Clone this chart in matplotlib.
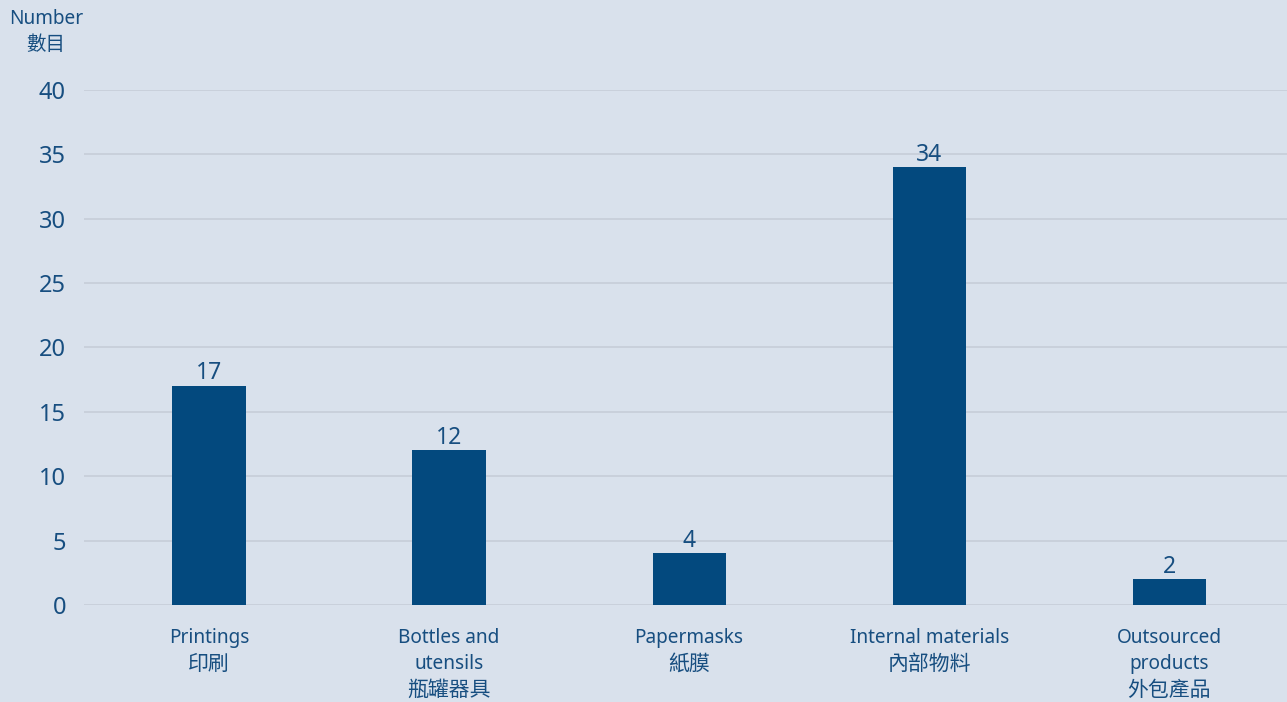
import matplotlib.pyplot as plt
import numpy as np

plt.rcParams['font.family'] = ['Noto Sans', 'Noto Sans CJK TC', 'DejaVu Sans']

categories_en = [['Printings'], ['Bottles and', 'utensils'], ['Papermasks'],
                 ['Internal materials'], ['Outsourced', 'products']]
categories_zh = ['印刷', '瓶罐器具', '紙膜', '內部物料', '外包產品']
values = [17, 12, 4, 34, 2]
yticks = [0, 5, 10, 15, 20, 25, 30, 35, 40]

bg = '#d9e1ec'
bar_col = '#03497e'
txt = '#174e80'
cjk = ['Noto Sans CJK TC', 'DejaVu Sans']

fig = plt.figure(figsize=(12.87, 7.02), dpi=100, facecolor=bg)
ax = fig.add_axes([0.0653, 0.1382, 0.9347, 0.7336], facecolor=bg)

x = np.arange(len(values))
ax.bar(x, values, width=0.305, color=bar_col, zorder=3)
for xi, v in zip(x, values):
    ax.text(xi, v + 0.05, str(v), ha='center', va='bottom', fontsize=16.5, color=txt, zorder=4)

ax.set_ylim(0, 40)
ax.set_xlim(-0.52, 4.49)
ax.set_yticks(yticks)
ax.set_yticklabels([str(t) for t in yticks], fontsize=17, color=txt)
ax.set_xticks(x)
ax.set_xticklabels([])
ax.tick_params(axis='both', length=0)
ax.tick_params(axis='y', pad=13)
ax.grid(axis='y', color='#c6cdd8', linewidth=1.2, zorder=0)
for s in ax.spines.values():
    s.set_visible(False)

# category labels, one text per line (English + Chinese)
line_y = [-0.0640, -0.1145, -0.1650]
trans = ax.get_xaxis_transform()
for xi, en, zh in zip(x, categories_en, categories_zh):
    for k, line in enumerate(en):
        ax.text(xi, line_y[k], line, transform=trans, ha='center', va='center',
                fontsize=13.7, color=txt, clip_on=False)
    ax.text(xi, line_y[len(en)], zh, transform=trans, ha='center', va='center',
            fontsize=15, color=txt, family=cjk, clip_on=False)

fig.text(0.0357, 0.973, 'Number', ha='center', va='center', fontsize=13.7, color=txt)
fig.text(0.0357, 0.936, '數目', ha='center', va='center', fontsize=14, color=txt, family=cjk)

fig.savefig('out.png', dpi=100, facecolor=bg)
